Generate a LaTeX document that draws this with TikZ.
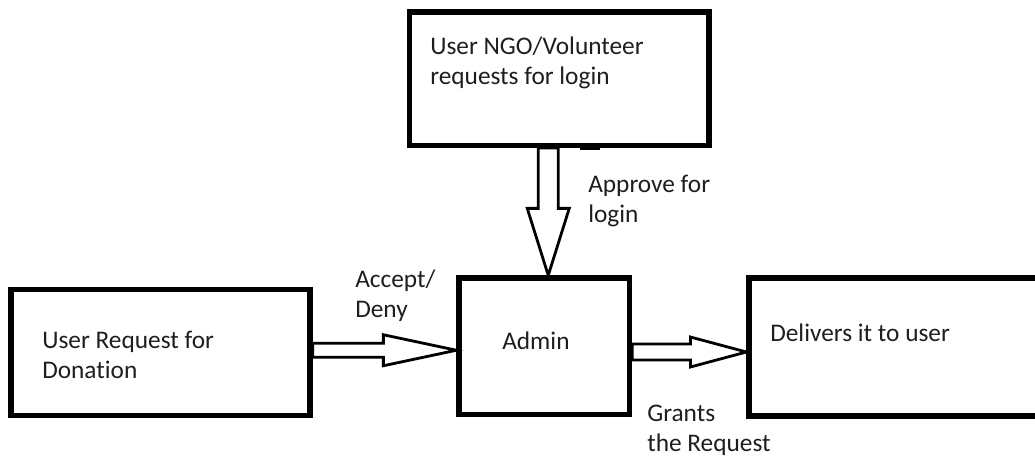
\documentclass[tikz,border=0pt]{standalone}
\usepackage{fontspec}
\setmainfont{Carlito}[Ligatures=NoCommon]
\usetikzlibrary{calc}
\definecolor{txt}{HTML}{1E1E1E}
\tikzset{
  box/.style={draw=black, line width=3.9pt, rectangle, inner sep=0pt},
  blockarrow/.style={draw=black, line width=2.1pt, fill=white, line join=miter},
  lbl/.style={anchor=base west, inner sep=0pt, align=left, text=txt,
    font=\fontsize{19}{22.5}\selectfont},
}
\begin{document}
\begin{tikzpicture}[x=0.75pt,y=-0.75pt]
\useasboundingbox (0,0) rectangle (1035,457);
% boxes
\node[box, minimum width=224.6pt, minimum height=100.1pt] (top) at (559.25,78.75) {};
\node[box, minimum width=224.25pt, minimum height=94.5pt] (req) at (160.5,352.5) {};
\node[box, minimum width=127.9pt, minimum height=102.4pt] (admin) at (544.25,346.25) {};
\node[box, minimum width=234pt, minimum height=103.5pt] (deliv) at (905,347) {};
% small tab under top box
\fill[black] ($(top.south)+(21,-4)$) rectangle ($(top.south)+(41,1.5)$);
% texts (anchor = baseline of last line)
\node[lbl] (t1) at (430,84) {User NGO/Volunteer\\requests for login};
\node[lbl] (t2) at (42,378) {User Request for\\Donation};
\node[lbl] (t3) at (502,349) {Admin};
\node[lbl] (t4) at (770,341) {Delivers it to user};
\node[lbl] (l1) at (588,222) {Approve for\\login};
\node[lbl] (l2) at (355,317) {Accept/\\Deny};
\node[lbl] (l3) at (647,451) {Grants\\the Request};
% down arrow
\coordinate (dtip) at ($(admin.north)+(4,0)$);
\coordinate (dh1) at ($(dtip)+(-10,-67)$);
\coordinate (dh2) at ($(dtip)+(10,-67)$);
\draw[blockarrow] (dtip) -- ($(dtip)+(21,-67)$) -- (dh2) -- (dh2 |- top.south)
  -- (dh1 |- top.south) -- (dh1) -- ($(dtip)+(-21,-67)$) -- cycle;
% left arrow
\coordinate (ltip) at ($(admin.west)+(0,4)$);
\coordinate (ls1) at ($(ltip)+(-73,-7)$);
\coordinate (ls2) at ($(ltip)+(-73,7)$);
\draw[blockarrow] (ltip) -- ($(ltip)+(-73,15.5)$) -- (ls2) -- (ls2 -| req.east)
  -- (ls1 -| req.east) -- (ls1) -- ($(ltip)+(-73,-15.5)$) -- cycle;
% right arrow
\coordinate (rtip) at ($(deliv.west)+(0,5)$);
\coordinate (rs1) at ($(rtip)+(-56,-8)$);
\coordinate (rs2) at ($(rtip)+(-56,8)$);
\draw[blockarrow] (rtip) -- ($(rtip)+(-56,15)$) -- (rs2) -- (rs2 -| admin.east)
  -- (rs1 -| admin.east) -- (rs1) -- ($(rtip)+(-56,-15)$) -- cycle;
\end{tikzpicture}
\end{document}
